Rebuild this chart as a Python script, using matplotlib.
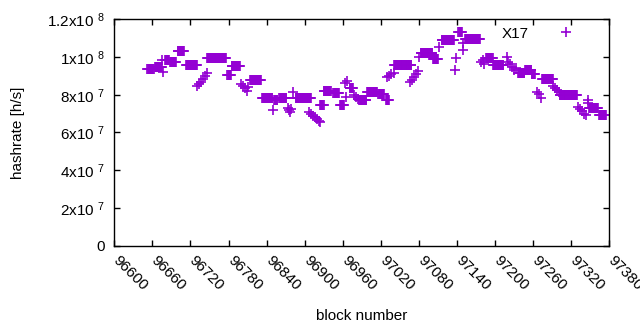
import numpy as np
import matplotlib
matplotlib.use("Agg")
import matplotlib.pyplot as plt
from matplotlib.transforms import ScaledTranslation

plt.rcParams['font.family'] = ['Liberation Sans', 'DejaVu Sans']
plt.rcParams['mathtext.default'] = 'regular'

# runs of blocks sharing the same hashrate estimate (block range, rate in Mh/s)
run_start = [96652, 96664, 96680, 96688, 96700, 96713, 96746, 96778, 96785, 96814,
             96833, 96852, 96860, 96886, 96924, 96930, 96945, 96956, 96971, 96986,
             96998, 97016, 97028, 97041, 97083, 97102, 97116, 97142, 97153, 97186,
             97197, 97236, 97247, 97258, 97274, 97302, 97348, 97364]
run_end = [96662, 96675, 96686, 96697, 96710, 96730, 96776, 96784, 96798, 96831,
           96849, 96857, 96871, 96910, 96930, 96941, 96954, 96962, 96976, 96997,
           97014, 97025, 97033, 97068, 97101, 97110, 97135, 97148, 97176, 97196,
           97213, 97246, 97257, 97263, 97291, 97329, 97362, 97375]
run_rate = [93.6, 94.7, 98.4, 97.3, 103.2, 96.0, 99.3, 90.2, 95.1, 87.8,
            78.5, 77.2, 78.5, 78.5, 74.5, 81.8, 80.9, 74.5, 83.6, 77.2,
            81.3, 80.2, 77.2, 95.8, 102.1, 98.9, 108.9, 113.3, 109.5, 99.7,
            95.8, 91.5, 93.1, 91.0, 88.3, 79.8, 73.2, 69.5]

# scattered single blocks
single_block = [96677, 96675, 96730, 96733, 96737, 96740, 96743, 96746,
                96800, 96803, 96806, 96809, 96811, 96850,
                96874, 96875, 96877, 96878, 96881,
                96907, 96910, 96913, 96916, 96919, 96923, 96924,
                96967, 96965, 96964, 96978, 96981, 96984,
                97030, 97033, 97036, 97040,
                97066, 97069, 97072, 97075, 97079, 97080, 97112,
                97137, 97138, 97149, 97149, 97178, 97181, 97183,
                97219, 97220, 97223, 97227, 97230, 97233,
                97266, 97269, 97272, 97291, 97294, 97298, 97301,
                97330, 97334, 97337, 97340, 97343, 97346, 97346]
single_rate = [92.2, 98.4, 84.6, 85.7, 86.7, 88.3, 89.9, 91.5,
               85.7, 84.6, 83.6, 82.0, 84.1, 71.9,
               72.8, 71.9, 70.8, 72.4, 81.6,
               70.8, 69.8, 68.7, 68.2, 67.1, 66.1, 65.5,
               87.3, 78.6, 86.2, 79.8, 78.8, 77.7,
               89.4, 89.9, 91.0, 91.5,
               86.7, 87.8, 89.4, 91.0, 92.6, 100.2, 105.3,
               93.1, 99.3, 107.4, 103.7, 97.3, 98.4, 96.3,
               100.2, 97.3, 96.3, 94.7, 93.1, 94.2,
               81.4, 80.4, 78.2, 84.6, 83.6, 82.5, 81.4,
               73.5, 72.4, 71.4, 69.8, 69.3, 77.2, 75.6]

xticks = list(range(96600, 97381, 60))
yticks = [0, 2e7, 4e7, 6e7, 8e7, 1e8, 1.2e8]
ytick_labels = ['0', '2x10$\\;^{7}$', '4x10$\\;^{7}$', '6x10$\\;^{7}$', '8x10$\\;^{7}$',
                '1x10$\\;^{8}$', '1.2x10$\\;^{8}$']

blocks = []
rates = []
for s, e, r in zip(run_start, run_end, run_rate):
    for b in range(s, e + 1):
        blocks.append(b)
        rates.append(r * 1e6)
blocks += single_block
rates += [r * 1e6 for r in single_rate]

FS = 11

fig = plt.figure(figsize=(6.4, 3.3), dpi=100)
ax = fig.add_axes([0.1786, 0.256, 0.952 - 0.1786, 0.9415 - 0.256])
ax.plot(blocks, rates, linestyle='none', marker='+', color='#9400d3',
        markersize=6.5, markeredgewidth=1.2, label='X17')

ax.set_xlim(96600, 97380)
ax.set_ylim(0, 1.2e8)
ax.set_xticks(xticks)
ax.set_xticklabels([])
# rotated labels hanging from each tick, like gnuplot's "rotate by -45"
off = ScaledTranslation(6 / 100, -8 / 100, fig.dpi_scale_trans)
for t in xticks:
    ax.text(t, 0, str(t), transform=ax.get_xaxis_transform() + off,
            rotation=-45, ha='left', va='top', rotation_mode='anchor',
            fontsize=FS, clip_on=False)
ax.set_yticks(yticks)
ax.set_yticklabels(ytick_labels, fontsize=FS)
ax.tick_params(direction='in', length=4, width=1, top=True, right=True)
ax.tick_params(axis='y', pad=7)
for sp in ax.spines.values():
    sp.set_linewidth(1)

ax.set_xlabel('block number', fontsize=FS)
ax.set_ylabel('hashrate [h/s]', fontsize=FS)
ax.xaxis.set_label_coords(0.5, -0.28)
ax.yaxis.set_label_coords(-0.18, 0.5)

ax.legend(loc='upper right', frameon=False, markerfirst=False, fontsize=FS,
          handlelength=3.3, handletextpad=0.8, borderpad=0, borderaxespad=0,
          bbox_to_anchor=(0.963, 0.968))

fig.savefig('out.png', dpi=100)
